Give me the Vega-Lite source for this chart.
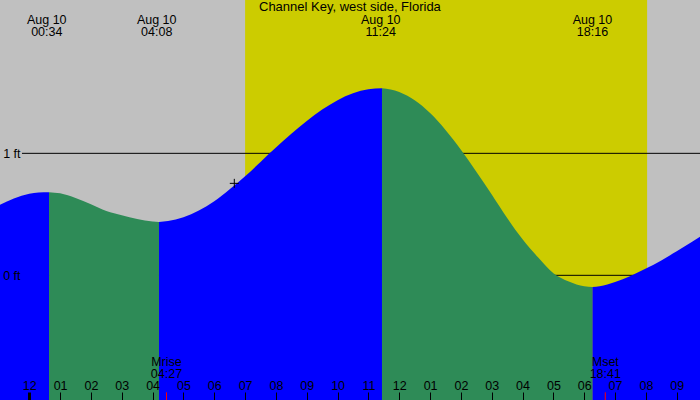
{
  "$schema": "https://vega.github.io/schema/vega-lite/v6.json",
  "width": 700,
  "height": 400,
  "autosize": {"type": "none"},
  "padding": 0,
  "background": "#C0C0C0",
  "datasets": {
    "tide": [
      {"h": -1.0, "ft": 0.572, "seg": "s1", "dir": "rising"},
      {"h": -0.5, "ft": 0.630, "seg": "s1", "dir": "rising"},
      {"h": 0.0, "ft": 0.668, "seg": "s1", "dir": "rising"},
      {"h": 0.3, "ft": 0.680, "seg": "s1", "dir": "rising"},
      {"h": 0.64, "ft": 0.682, "seg": "s1", "dir": "rising"},
      {"h": 0.64, "ft": 0.682, "seg": "s2", "dir": "falling"},
      {"h": 1.0, "ft": 0.672, "seg": "s2", "dir": "falling"},
      {"h": 1.5, "ft": 0.634, "seg": "s2", "dir": "falling"},
      {"h": 2.0, "ft": 0.582, "seg": "s2", "dir": "falling"},
      {"h": 2.5, "ft": 0.527, "seg": "s2", "dir": "falling"},
      {"h": 3.0, "ft": 0.492, "seg": "s2", "dir": "falling"},
      {"h": 3.5, "ft": 0.462, "seg": "s2", "dir": "falling"},
      {"h": 4.0, "ft": 0.441, "seg": "s2", "dir": "falling"},
      {"h": 4.207, "ft": 0.438, "seg": "s2", "dir": "falling"},
      {"h": 4.207, "ft": 0.438, "seg": "s3", "dir": "rising"},
      {"h": 4.5, "ft": 0.445, "seg": "s3", "dir": "rising"},
      {"h": 5.0, "ft": 0.476, "seg": "s3", "dir": "rising"},
      {"h": 5.5, "ft": 0.531, "seg": "s3", "dir": "rising"},
      {"h": 6.0, "ft": 0.607, "seg": "s3", "dir": "rising"},
      {"h": 6.5, "ft": 0.705, "seg": "s3", "dir": "rising"},
      {"h": 7.0, "ft": 0.812, "seg": "s3", "dir": "rising"},
      {"h": 7.5, "ft": 0.930, "seg": "s3", "dir": "rising"},
      {"h": 8.0, "ft": 1.047, "seg": "s3", "dir": "rising"},
      {"h": 8.5, "ft": 1.160, "seg": "s3", "dir": "rising"},
      {"h": 9.0, "ft": 1.266, "seg": "s3", "dir": "rising"},
      {"h": 9.5, "ft": 1.359, "seg": "s3", "dir": "rising"},
      {"h": 10.0, "ft": 1.436, "seg": "s3", "dir": "rising"},
      {"h": 10.5, "ft": 1.492, "seg": "s3", "dir": "rising"},
      {"h": 11.0, "ft": 1.525, "seg": "s3", "dir": "rising"},
      {"h": 11.44, "ft": 1.533, "seg": "s3", "dir": "rising"},
      {"h": 11.44, "ft": 1.533, "seg": "s4", "dir": "falling"},
      {"h": 12.0, "ft": 1.503, "seg": "s4", "dir": "falling"},
      {"h": 12.5, "ft": 1.435, "seg": "s4", "dir": "falling"},
      {"h": 13.0, "ft": 1.330, "seg": "s4", "dir": "falling"},
      {"h": 13.5, "ft": 1.192, "seg": "s4", "dir": "falling"},
      {"h": 14.0, "ft": 1.030, "seg": "s4", "dir": "falling"},
      {"h": 14.5, "ft": 0.850, "seg": "s4", "dir": "falling"},
      {"h": 15.0, "ft": 0.663, "seg": "s4", "dir": "falling"},
      {"h": 15.5, "ft": 0.470, "seg": "s4", "dir": "falling"},
      {"h": 16.0, "ft": 0.295, "seg": "s4", "dir": "falling"},
      {"h": 16.5, "ft": 0.148, "seg": "s4", "dir": "falling"},
      {"h": 17.0, "ft": 0.018, "seg": "s4", "dir": "falling"},
      {"h": 17.5, "ft": -0.050, "seg": "s4", "dir": "falling"},
      {"h": 18.0, "ft": -0.090, "seg": "s4", "dir": "falling"},
      {"h": 18.267, "ft": -0.096, "seg": "s4", "dir": "falling"},
      {"h": 18.267, "ft": -0.096, "seg": "s5", "dir": "rising"},
      {"h": 18.5, "ft": -0.090, "seg": "s5", "dir": "rising"},
      {"h": 19.0, "ft": -0.055, "seg": "s5", "dir": "rising"},
      {"h": 19.5, "ft": -0.005, "seg": "s5", "dir": "rising"},
      {"h": 20.0, "ft": 0.055, "seg": "s5", "dir": "rising"},
      {"h": 20.5, "ft": 0.122, "seg": "s5", "dir": "rising"},
      {"h": 21.0, "ft": 0.197, "seg": "s5", "dir": "rising"},
      {"h": 21.5, "ft": 0.275, "seg": "s5", "dir": "rising"},
      {"h": 22.0, "ft": 0.355, "seg": "s5", "dir": "rising"}
    ],
    "events": [
      {"h": 0.567, "label": "Aug 10\n00:34"},
      {"h": 4.133, "label": "Aug 10\n04:08"},
      {"h": 11.4, "label": "Aug 10\n11:24"},
      {"h": 18.267, "label": "Aug 10\n18:16"}
    ],
    "moon": [
      {"h": 4.45, "label": "Mrise\n04:27"},
      {"h": 18.683, "label": "Mset\n18:41"}
    ],
    "sun": [{"rise": 7.0, "set": 20.04}],
    "levels": [{"ft": 0}, {"ft": 1}],
    "now": [{"h": 6.65, "ft": 0.754}],
    "heading": [{"label": "Channel Key, west side, Florida"}]
  },
  "resolve": {"axis": {"x": "independent", "y": "independent"}},
  "layer": [
    {
      "data": {"name": "sun"},
      "mark": {"type": "rect", "color": "#CCCC00"},
      "encoding": {
        "x": {"field": "rise", "type": "quantitative", "scale": {"domain": [-0.95, 21.755], "nice": false, "zero": false}, "axis": null},
        "x2": {"field": "set"}
      }
    },
    {
      "data": {"name": "levels"},
      "mark": {"type": "rule", "color": "black", "strokeWidth": 1},
      "encoding": {
        "x": {"datum": -0.237, "type": "quantitative", "axis": null},
        "x2": {"datum": 21.76},
        "y": {"field": "ft", "type": "quantitative", "scale": {"domain": [-1.022, 2.257], "nice": false, "zero": false}, "axis": null}
      }
    },
    {
      "data": {"name": "tide"},
      "mark": {"type": "area", "interpolate": "monotone", "opacity": 1},
      "encoding": {
        "x": {
          "field": "h",
          "type": "quantitative",
          "scale": {"domain": [-0.95, 21.755], "nice": false, "zero": false},
          "axis": {
            "orient": "top",
            "offset": -400,
            "title": null,
            "values": [-1, 0, 1, 2, 3, 4, 5, 6, 7, 8, 9, 10, 11, 12, 13, 14, 15, 16, 17, 18, 19, 20, 21],
            "labelExpr": "(datum.value + 24) % 12 == 0 ? '12' : ((datum.value + 24) % 12 < 10 ? '0' + ((datum.value + 24) % 12) : '' + ((datum.value + 24) % 12))",
            "domain": false,
            "grid": false,
            "tickSize": 8,
            "tickColor": "black",
            "tickWidth": {"condition": {"test": "datum.value == 0", "value": 3}, "value": 1},
            "labelFont": "Liberation Sans",
            "labelFontSize": 12.5,
            "labelColor": "black",
            "labelPadding": 0,
            "labelOverlap": false,
            "labelSeparation": 0,
            "labelFlush": false,
            "labelBound": false,
            "zindex": 1
          }
        },
        "y": {
          "field": "ft",
          "type": "quantitative",
          "stack": null,
          "scale": {"domain": [-1.022, 2.257], "nice": false, "zero": false},
          "axis": {
            "orient": "left",
            "offset": -22,
            "title": null,
            "values": [0, 1],
            "labelExpr": "datum.value + ' ft'",
            "domain": false,
            "ticks": false,
            "tickSize": 0,
            "grid": false,
            "labelPadding": 2,
            "labelFont": "Liberation Sans",
            "labelFontSize": 12.5,
            "labelColor": "black",
            "zindex": 1
          }
        },
        "y2": {"datum": -1.022},
        "color": {
          "field": "dir",
          "type": "nominal",
          "scale": {"domain": ["rising", "falling"], "range": ["#0000FF", "#2E8B57"]},
          "legend": null
        },
        "detail": {"field": "seg"}
      }
    },
    {
      "data": {"name": "now"},
      "mark": {
        "type": "point",
        "shape": "M-1,0H1M0,-1V1",
        "size": 81,
        "filled": false,
        "stroke": "black",
        "strokeWidth": 1,
        "opacity": 1
      },
      "encoding": {
        "x": {"field": "h", "type": "quantitative", "axis": null},
        "y": {"field": "ft", "type": "quantitative", "axis": null}
      }
    },
    {
      "data": {"name": "moon"},
      "mark": {"type": "rule", "color": "red", "strokeWidth": 1},
      "encoding": {
        "x": {"field": "h", "type": "quantitative", "axis": null},
        "y": {"datum": -0.959, "type": "quantitative", "axis": null},
        "y2": {"datum": -1.022}
      }
    },
    {
      "data": {"name": "moon"},
      "mark": {
        "type": "text",
        "font": "Liberation Sans",
        "fontSize": 12.5,
        "color": "black",
        "align": "center",
        "baseline": "top",
        "lineBreak": "\n",
        "lineHeight": 12.5
      },
      "encoding": {
        "x": {"field": "h", "type": "quantitative", "axis": null},
        "y": {"datum": -0.658, "type": "quantitative", "axis": null},
        "text": {"field": "label"}
      }
    },
    {
      "data": {"name": "events"},
      "mark": {
        "type": "text",
        "font": "Liberation Sans",
        "fontSize": 12.5,
        "color": "black",
        "align": "center",
        "baseline": "top",
        "lineBreak": "\n",
        "lineHeight": 12.5
      },
      "encoding": {
        "x": {"field": "h", "type": "quantitative", "axis": null},
        "y": {"datum": 2.146, "type": "quantitative", "axis": null},
        "text": {"field": "label"}
      }
    },
    {
      "data": {"name": "heading"},
      "mark": {
        "type": "text",
        "font": "Liberation Sans",
        "fontSize": 13,
        "color": "black",
        "align": "center",
        "baseline": "top"
      },
      "encoding": {
        "x": {"datum": 10.4, "type": "quantitative", "axis": null},
        "y": {"datum": 2.245, "type": "quantitative", "axis": null},
        "text": {"field": "label"}
      }
    }
  ],
  "config": {
    "view": {"stroke": null},
    "axis": {"labelOverlap": false, "labelFlush": false, "labelBound": false}
  }
}
